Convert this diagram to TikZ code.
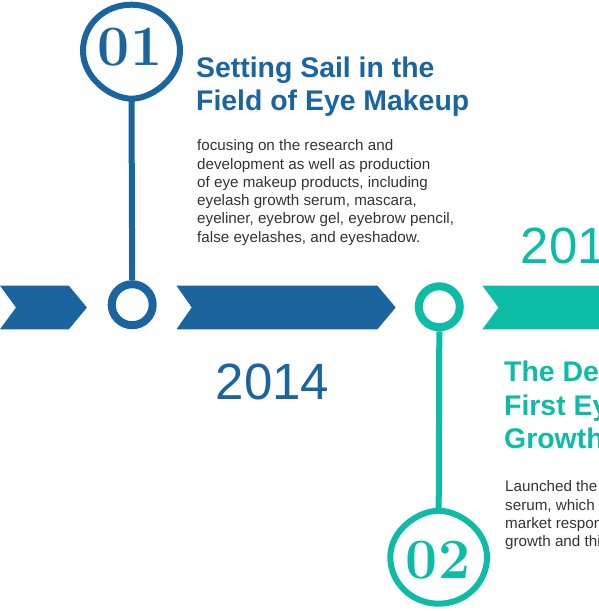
\documentclass[tikz,border=0pt]{standalone}
\usepackage{fontspec}
\newfontfamily\sansf{Liberation Sans}
\definecolor{cblue}{RGB}{26,101,160}
\definecolor{cteal}{RGB}{13,188,166}
\definecolor{ctext}{RGB}{51,51,51}
\tikzset{
  titletext/.style={anchor=base west, inner sep=0pt, font=\sansf\bfseries\fontsize{28.4}{33}\selectfont},
  bodytext/.style={anchor=base west, inner sep=0pt, text=ctext, font=\sansf\fontsize{15.2}{18}\selectfont},
  yeartext/.style={anchor=base west, inner sep=0pt, font=\sansf\fontsize{51}{60}\selectfont},
  numtext/.style={inner sep=0pt, font=\bfseries\fontsize{57}{60}\selectfont},
  ring/.style={circle, minimum size=41pt, line width=8pt, draw, fill=white, inner sep=0pt},
  stemline/.style={line width=6pt},
  balloonline/.style={line width=6pt, line join=round},
}
\begin{document}
\begin{tikzpicture}[x=1pt,y=-1pt]
\useasboundingbox (0,0) rectangle (599,611);
\clip (0,0) rectangle (599,611);

% chevron band
\fill[cblue] (0,285.7) -- (68.8,285.7) -- (87,307.5) -- (68.8,329.3) -- (0,329.3) -- (16,307.5) -- cycle;
\fill[cblue] (176.5,285.7) -- (377.4,285.7) -- (395.7,307.5) -- (377.4,329.3) -- (176.5,329.3) -- (191.7,307.5) -- cycle;
\fill[cteal] (482.4,285.7) -- (605,285.7) -- (605,329.3) -- (482.4,329.3) -- (498.5,307.5) -- cycle;

% rings
\node[ring, draw=cblue] (c1) at (132.2,304.7) {};
\node[ring, draw=cteal] (c2) at (439.3,306.8) {};

% balloon points
\coordinate (p1) at (131.5,98.7);
\coordinate (p2) at (438.7,510.7);

% stems
\draw[stemline, cblue] (c1.north) -- (p1);
\draw[stemline, cteal] (c2.south) -- (p2);

% balloon 1 (narrow end at bottom)
\draw[balloonline, cblue] (83,51) .. controls (83,24.2) and (104.7,4.7) .. (131.5,4.7)
  .. controls (158.3,4.7) and (180,24.2) .. (180,51)
  .. controls (180,78) and (152,98.7) .. (p1)
  .. controls (111,98.7) and (83,78) .. (83,51) -- cycle;
\node[numtext, text=cblue] (n1) at (130,47.5) {01};

% balloon 2 (narrow end at top)
\draw[balloonline, cteal] (390.3,557) .. controls (390.3,583) and (412,603.7) .. (438.7,603.7)
  .. controls (465.4,603.7) and (487,583) .. (487,557)
  .. controls (487,530) and (459,510.7) .. (p2)
  .. controls (418.4,510.7) and (390.3,530) .. (390.3,557) -- cycle;
\node[numtext, text=cteal] (n2) at (438,560.5) {02};

% texts block 1
\node[titletext, text=cblue] (t1a) at (196,77) {Setting Sail in the};
\node[titletext, text=cblue] (t1b) at (196,110) {Field of Eye Makeup};
\node[bodytext] (b1a) at (197,150.7) {focusing on the research and};
\node[bodytext] (b1b) at (197,169) {development as well as production};
\node[bodytext] (b1c) at (197,187.3) {of eye makeup products, including};
\node[bodytext] (b1d) at (197,205.6) {eyelash growth serum, mascara,};
\node[bodytext] (b1e) at (197,223.9) {eyeliner, eyebrow gel, eyebrow pencil,};
\node[bodytext] (b1f) at (197,242.2) {false eyelashes, and eyeshadow.};

% years
\node[yeartext, text=cblue] (y1) at (215.5,399.5) {2014};
\node[yeartext, text=cteal] (y2) at (520.5,263.5) {201};

% texts block 2
\node[titletext, text=cteal] (t2a) at (504,381.7) {The De};
\node[titletext, text=cteal] (t2b) at (504,415) {First Ey};
\node[titletext, text=cteal] (t2c) at (504,448.3) {Growth};
\node[bodytext] (b2a) at (505,491.7) {Launched the};
\node[bodytext] (b2b) at (505,510) {serum, which r};
\node[bodytext] (b2c) at (505,528.3) {market respon};
\node[bodytext] (b2d) at (505,546.6) {growth and thi};
\end{tikzpicture}
\end{document}
